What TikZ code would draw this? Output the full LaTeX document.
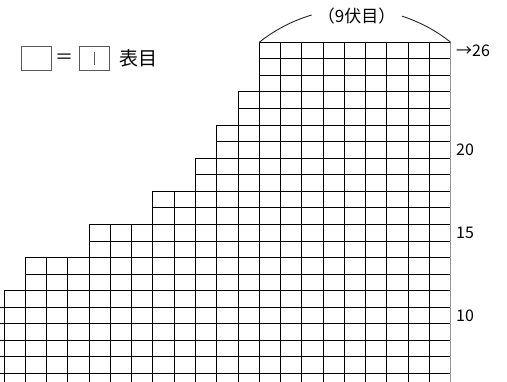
\documentclass[tikz,border=0pt]{standalone}
\usepackage{fontspec}
\newfontfamily\jpfont{Noto Sans CJK JP}
\usetikzlibrary{calc}

\begin{document}
\begin{tikzpicture}[x=1pt, y=1pt,
	cell/.style={draw=black, line width=0.95pt},
	legendbox/.style={draw=black!65, line width=1pt, minimum width=30pt, minimum height=23.3pt, inner sep=0pt},
	rowlabel/.style={font=\jpfont\fontsize{16}{16}\selectfont, anchor=west, inner sep=0pt}]
	\useasboundingbox (0,0) rectangle (507,382);
	\clip (0,0) rectangle (507,382);

	% legend
	\node[legendbox] at (36.7, 323.6) (plain) {};
	\node[font=\jpfont\fontsize{18}{18}\selectfont, inner sep=0pt] at (64.5, 323.7) (eq) {＝};
	\node[legendbox, minimum width=30.7pt] at (94.6, 323.6) (knit) {};
	\draw[black!65, line width=1pt] ($(knit.center)+(0,6.3)$) -- ($(knit.center)+(0,-6.3)$);
	\node[font=\jpfont\fontsize{19}{19}\selectfont, inner sep=0pt] at (138, 324) (knitname) {表目};

	% chart, one unit = one stitch
	\begin{scope}[shift={(-17.24pt,-8.06pt)}, x=21.27pt, y=16.56pt]
		\foreach \c/\h in {0/5, 1/6, 2/8, 3/8, 4/8, 5/10, 6/10, 7/10, 8/12, 9/12, 10/14, 11/16, 12/18,
			13/21, 14/21, 15/21, 16/21, 17/21, 18/21, 19/21, 20/21, 21/21}
			\foreach \r in {1,...,\h}
				\draw[cell] (\c,\r-1) rectangle ++(1,1);
		\coordinate (topleft) at (13,21);
		\coordinate (topright) at (22,21);
		\coordinate (bottomright) at (22,0);
		\draw[gray!85, line width=1.3pt] (bottomright) -- (topright);

		\node[rowlabel] at (22.25, 20.5) (row26) {→26};
		\node[rowlabel] at (22.25, 14.5) (row20) {20};
		\node[rowlabel] at (22.25, 9.5) (row15) {15};
		\node[rowlabel] at (22.25, 4.5) (row10) {10};
	\end{scope}

	% width of the top
	\node[font=\jpfont\fontsize{17}{17}\selectfont, inner sep=0pt] at (356.7, 366) (width) {（9伏目）};
	\draw[black!85, line width=0.9pt] (topleft) arc[start angle=128.6, end angle=106.4, radius=153.3pt];
	\draw[black!85, line width=0.9pt] (topright) arc[start angle=51.4, end angle=72.2, radius=153.3pt];
\end{tikzpicture}
\end{document}
